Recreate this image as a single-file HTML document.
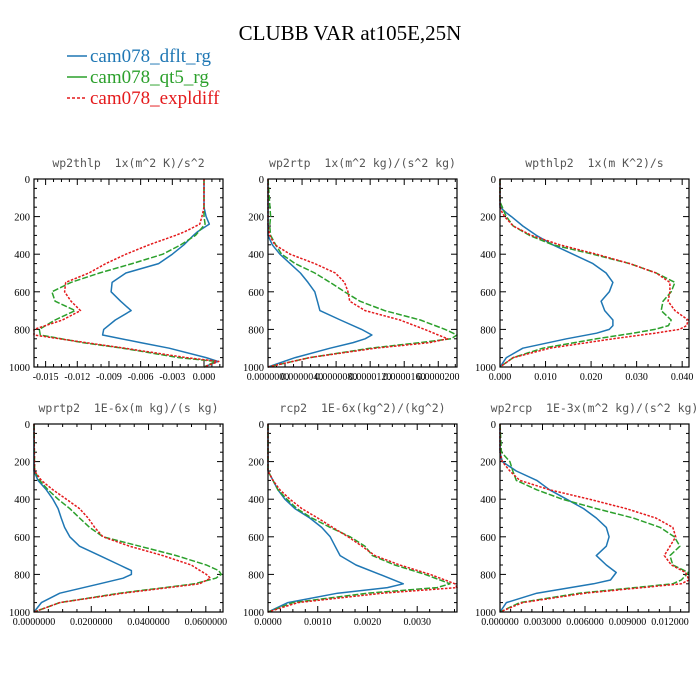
<!DOCTYPE html>
<html><head><meta charset="utf-8"><style>
body{margin:0;background:#fff;}
svg{display:block;}
</style></head><body>
<svg id="chart" width="700" height="700" viewBox="0 0 700 700" xmlns="http://www.w3.org/2000/svg">
<rect width="700" height="700" fill="#fff"/>
<text x="350" y="40" text-anchor="middle" font-family="Liberation Serif, serif" font-size="21" fill="#000">CLUBB VAR at105E,25N</text>
<g font-family="Liberation Serif, serif" font-size="19">
<g><line x1="67" y1="56" x2="87" y2="56" stroke="#1f77b4" stroke-width="1.6"/><text x="90" y="62" fill="#1f77b4">cam078_dflt_rg</text></g>
<g><line x1="67" y1="77" x2="87" y2="77" stroke="#2ca02c" stroke-width="1.6"/><text x="90" y="83" fill="#2ca02c">cam078_qt5_rg</text></g>
<g><line x1="67" y1="98" x2="87" y2="98" stroke="#e41a1c" stroke-width="1.6" stroke-dasharray="3,2"/><text x="90" y="104" fill="#e41a1c">cam078_expldiff</text></g>
</g>
</svg>
<script>
const p1Levels=[0,150,200,240,280,300,350,400,450,500,550,600,650,700,750,800,830,870,900,950,970,1000];
const p1Dflt=[0,0,0.0002,0.0005,-0.0006,-0.0010,-0.0019,-0.003,-0.0043,-0.0074,-0.0087,-0.0088,-0.0079,-0.0069,-0.0084,-0.0095,-0.0096,-0.0060,-0.0033,0.0002,0.0013,0];
const p1Qt5=[0,0,0,0.0001,-0.0005,-0.0008,-0.0022,-0.0039,-0.0068,-0.0099,-0.0126,-0.0144,-0.0141,-0.0122,-0.0141,-0.0156,-0.0155,-0.0115,-0.0077,-0.0024,0.0011,0];
const p1Expl=[0,0,-0.0002,-0.0004,-0.0018,-0.0027,-0.0052,-0.0074,-0.0093,-0.0109,-0.0131,-0.0132,-0.0126,-0.0117,-0.0134,-0.0161,-0.0161,-0.0112,-0.0075,-0.0017,0.0014,0];
const p1Ticks=["-0.015","-0.012","-0.009","-0.006","-0.003","0.000"];

const p2Levels=[0,200,250,300,350,400,450,500,550,600,650,700,750,800,830,850,870,900,950,1000];
const p2Dflt=[0,0,0,0,0.5e-6,1.4e-6,2.6e-6,3.8e-6,4.7e-6,5.5e-6,5.8e-6,6.1e-6,8.5e-6,11.0e-6,12.2e-6,11.4e-6,10.0e-6,7.3e-6,3.2e-6,0];
const p2Qt5=[0,0.3e-6,0.2e-6,0.3e-6,0.9e-6,1.6e-6,3.2e-6,5.5e-6,7.3e-6,9.0e-6,10.8e-6,13.7e-6,17.9e-6,20.8e-6,22.2e-6,21.5e-6,17.9e-6,12.0e-6,4.9e-6,0];
const p2Expl=[0,0,0,0.2e-6,0.8e-6,2.6e-6,5.5e-6,7.9e-6,9.0e-6,9.4e-6,9.6e-6,11.4e-6,15.5e-6,18.4e-6,20.0e-6,21.1e-6,19.0e-6,12.6e-6,4.9e-6,0];
const p2Ticks=["0.0000000","0.0000040","0.0000080","0.0000120","0.0000160","0.0000200"];

const p3Levels=[0,120,150,180,200,250,300,350,400,450,500,550,600,650,700,750,780,800,820,850,900,950,1000];
const p3Dflt=[0,0,0,0.0014,0.0025,0.005,0.008,0.0116,0.016,0.0204,0.0233,0.0248,0.024,0.0222,0.023,0.0248,0.0248,0.024,0.0212,0.0146,0.005,0.0014,0];
const p3Qt5=[0,0,0.0005,0.001,0.0014,0.0029,0.0065,0.0116,0.0204,0.0285,0.0343,0.0384,0.0376,0.0358,0.0354,0.0376,0.037,0.034,0.0292,0.0212,0.0094,0.0029,0];
const p3Expl=[0,0,0,0.0005,0.001,0.0029,0.0069,0.0131,0.0212,0.0285,0.0343,0.0373,0.0373,0.0369,0.0384,0.0413,0.041,0.0394,0.034,0.0248,0.0109,0.0029,0];
const p3Ticks=["0.000","0.010","0.020","0.030","0.040"];

const p4Levels=[0,250,300,350,400,450,500,550,600,650,700,750,780,800,820,850,900,950,1000];
const p4Dflt=[0,0,0.0014,0.0043,0.0066,0.0084,0.0095,0.0107,0.0125,0.0159,0.0229,0.0299,0.034,0.034,0.0311,0.0229,0.009,0.0026,0];
const p4Qt5=[0,0.0002,0.002,0.0049,0.0084,0.0125,0.0159,0.0194,0.0241,0.0369,0.0497,0.0602,0.0645,0.0654,0.0635,0.0560,0.0299,0.009,0];
const p4Expl=[0,0.0002,0.0026,0.0066,0.0113,0.0159,0.0189,0.0212,0.0241,0.0334,0.045,0.0549,0.058,0.0602,0.0616,0.0578,0.0311,0.009,0];
const p4Ticks=["0.0000000","0.0200000","0.0400000","0.0600000"];

const p5Levels=[0,250,300,350,400,450,500,550,600,650,700,750,800,850,870,900,950,1000];
const p5Dflt=[0,0,0.0001,0.0002,0.00034,0.00054,0.00084,0.00108,0.00125,0.00135,0.00145,0.00177,0.00225,0.00272,0.0024,0.0014,0.0004,0];
const p5Qt5=[0,0,0.0001,0.0002,0.00038,0.00058,0.00088,0.00125,0.00165,0.00195,0.0021,0.00255,0.00316,0.00366,0.0034,0.002,0.0005,0];
const p5Expl=[0,0,0.0001,0.00024,0.00044,0.00068,0.001,0.0013,0.00161,0.00189,0.00215,0.00265,0.00326,0.00376,0.0038,0.0023,0.0006,0];
const p5Ticks=["0.0000","0.0010","0.0020","0.0030"];

const p6Levels=[0,150,200,250,300,350,400,450,500,550,600,650,700,750,790,830,850,900,950,1000];
const p6Dflt=[0,0,0.00016,0.00115,0.0026,0.0035,0.0047,0.0059,0.0068,0.0075,0.0077,0.0075,0.0068,0.0075,0.0082,0.0078,0.0066,0.0026,0.00045,0];
const p6Qt5=[0,0.0001,0.0007,0.0009,0.00115,0.0026,0.0044,0.0068,0.0094,0.0113,0.0123,0.0127,0.012,0.0122,0.0133,0.0128,0.0122,0.0056,0.0014,0];
const p6Expl=[0,0,0.00016,0.0007,0.0014,0.0035,0.0063,0.0089,0.011,0.0122,0.0124,0.012,0.0116,0.0121,0.0131,0.01334,0.0128,0.006,0.0016,0];
const p6Ticks=["0.000000","0.003000","0.006000","0.009000","0.012000"];

const yTicks=[0,200,400,600,800,1000];

const NS="http://www.w3.org/2000/svg";
const svg=document.getElementById('chart');
function mk(tag,attrs,parent){const e=document.createElementNS(NS,tag);for(const k in attrs)e.setAttribute(k,attrs[k]);parent.appendChild(e);return e;}

const panels=[
 {name:'wp2thlp',title:'wp2thlp  1x(m^2 K)/s^2',x:34,y:179,dom:[-0.0161,0.0018],t0:-0.015,step:0.003,lev:p1Levels,d:p1Dflt,q:p1Qt5,e:p1Expl,labels:p1Ticks},
 {name:'wp2rtp',title:'wp2rtp  1x(m^2 kg)/(s^2 kg)',x:268,y:179,dom:[0,2.22e-5],t0:0,step:4e-6,lev:p2Levels,d:p2Dflt,q:p2Qt5,e:p2Expl,labels:p2Ticks},
 {name:'wpthlp2',title:'wpthlp2  1x(m K^2)/s',x:500,y:179,dom:[0,0.0415],t0:0,step:0.01,lev:p3Levels,d:p3Dflt,q:p3Qt5,e:p3Expl,labels:p3Ticks},
 {name:'wprtp2',title:'wprtp2  1E-6x(m kg)/(s kg)',x:34,y:424,dom:[0,0.066],t0:0,step:0.02,lev:p4Levels,d:p4Dflt,q:p4Qt5,e:p4Expl,labels:p4Ticks},
 {name:'rcp2',title:'rcp2  1E-6x(kg^2)/(kg^2)',x:268,y:424,dom:[0,0.0038],t0:0,step:0.001,lev:p5Levels,d:p5Dflt,q:p5Qt5,e:p5Expl,labels:p5Ticks},
 {name:'wp2rcp',title:'wp2rcp  1E-3x(m^2 kg)/(s^2 kg)',x:500,y:424,dom:[0,0.01334],t0:0,step:0.003,lev:p6Levels,d:p6Dflt,q:p6Qt5,e:p6Expl,labels:p6Ticks}
];
const W=189,H=188;
panels.forEach(p=>{
 const g=mk('g',{},svg);
 
 
 const xs=v=>p.x+(v-p.dom[0])/(p.dom[1]-p.dom[0])*W;
 const ys=v=>p.y+v/1000*H;
 const t=mk('text',{x:p.x+W/2,y:p.y-12,'text-anchor':'middle','font-family':'DejaVu Sans Mono, Liberation Mono, monospace','font-size':'11.5',fill:'#555',style:'white-space:pre'},g);
 t.textContent=p.title;
 
 
 for(let v=0;v<=1000;v+=50){
  const maj=v%200===0, L=maj?6:3;
  mk('line',{x1:p.x,y1:ys(v),x2:p.x+L,y2:ys(v),stroke:'#000','stroke-width':1},g);
  mk('line',{x1:p.x+W,y1:ys(v),x2:p.x+W-L,y2:ys(v),stroke:'#000','stroke-width':1},g);
 }
 yTicks.forEach(v=>{
  const l=mk('text',{x:p.x-4,y:ys(v)+4,'text-anchor':'end','font-family':'Liberation Serif, serif','font-size':'10.5',fill:'#000'},g);
  l.textContent=String(v);
  
  
 });
 const minor=p.step/4;
 const start=Math.ceil((p.dom[0]-1e-12)/minor);
 for(let i=start;i*minor<=p.dom[1]+1e-12;i++){
  const v=i*minor;const rel=Math.round((v-p.t0)/minor);const maj=rel%4===0;const L=maj?6:3;
  mk('line',{x1:xs(v),y1:p.y+H,x2:xs(v),y2:p.y+H-L,stroke:'#000','stroke-width':1},g);
  mk('line',{x1:xs(v),y1:p.y,x2:xs(v),y2:p.y+L,stroke:'#000','stroke-width':1},g);
 }
 p.labels.forEach((s,i)=>{
  const v=p.t0+i*p.step;
  const l=mk('text',{x:xs(v),y:p.y+H+13,'text-anchor':'middle','font-family':'Liberation Serif, serif','font-size':'10',fill:'#000'},g);
  l.textContent=s;
  
  
 });
 const series=[[p.d,'#1f77b4','none','dflt'],[p.q,'#2ca02c','6,2','qt5'],[p.e,'#e41a1c','2.5,1.5','expldiff']];
 series.forEach(s=>{
  const pts=s[0].map((v,i)=>xs(v).toFixed(1)+','+ys(p.lev[i]).toFixed(1)).join(' ');
  const pl=mk('polyline',{points:pts,fill:'none',stroke:s[1],'stroke-width':1.5,'stroke-dasharray':s[2],'stroke-linejoin':'round'},g);
  
  
 });
 const fr=mk('rect',{x:p.x,y:p.y,width:W,height:H,fill:'none',stroke:'#000','stroke-width':1.2},g);
 
 
});
</script>
</body></html>
